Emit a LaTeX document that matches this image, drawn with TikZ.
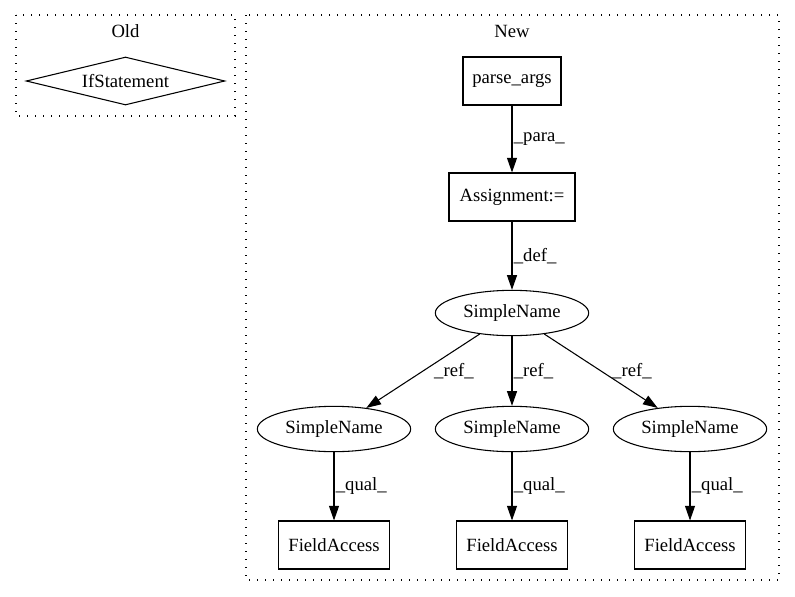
\documentclass[tikz,border=0pt]{standalone}
\usepackage{fontspec}
\setmainfont{Liberation Serif}
\usetikzlibrary{positioning}
\usetikzlibrary{shapes.geometric}
\usetikzlibrary{arrows.meta}

\begin{document}
\begin{tikzpicture}[x=0.75pt,y=-0.75pt,font=\fontsize{14pt}{16pt}\selectfont,
    box/.style={draw,line width=0.8pt,minimum height=36pt,inner sep=2pt},
    oval/.style={draw,ellipse,line width=0.8pt,minimum width=115pt,minimum height=34pt,inner sep=0pt},
    arr/.style={-{Triangle[length=11pt,width=7.5pt]},line width=0.8pt},
    lbl/.style={anchor=west,inner sep=1pt},
    cluster/.style={line width=1pt,dash pattern=on 1pt off 5pt}]
  \useasboundingbox (0,0) rectangle (795,596);

  \draw[cluster] (16,15) rectangle (235,116);
  \node at (125.5,31) (oldtitle) {Old};
  \node at (125.5,81) [draw,diamond,line width=0.8pt,minimum width=149pt,minimum height=36pt,shape aspect=4,inner sep=0pt] (ifstmt) {IfStatement};

  \draw[cluster] (246,15) rectangle (779,580);
  \node at (512,31) (newtitle) {New};

  \node at (512,81) [box,minimum width=73.5pt] (parse) {parse\_args};
  \node at (512,197) [box,minimum width=94.5pt] (assign) {Assignment:=};
  \node at (512,313) [oval] (sn) {SimpleName};

  \node at (334,429) [oval] (snleft) {SimpleName};
  \node at (512,429) [oval] (snmid) {SimpleName};
  \node at (690,429) [oval] (snright) {SimpleName};

  \node at (334,545) [box,minimum width=83pt] (faleft) {FieldAccess};
  \node at (512,545) [box,minimum width=83pt] (famid) {FieldAccess};
  \node at (690,545) [box,minimum width=83pt] (faright) {FieldAccess};

  \draw[arr] (parse) -- node[lbl] {\_para\_} (assign);
  \draw[arr] (assign) -- node[lbl] {\_def\_} (sn);

  \draw[arr] (sn) -- node[lbl,xshift=7pt] {\_ref\_} (snleft);
  \draw[arr] (sn) -- node[lbl] {\_ref\_} (snmid);
  \draw[arr] (sn) -- node[lbl,xshift=7pt] {\_ref\_} (snright);

  \draw[arr] (snleft) -- node[lbl] {\_qual\_} (faleft);
  \draw[arr] (snmid) -- node[lbl] {\_qual\_} (famid);
  \draw[arr] (snright) -- node[lbl] {\_qual\_} (faright);
\end{tikzpicture}
\end{document}
